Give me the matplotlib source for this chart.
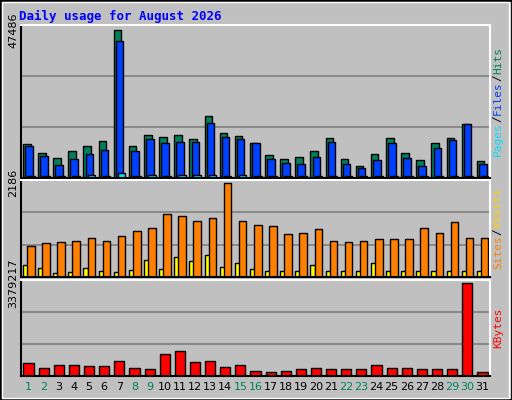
import matplotlib
matplotlib.use("Agg")
import matplotlib.pyplot as plt
from matplotlib.patches import Rectangle
import numpy as np

days = list(range(1, 32))
hits = [10982, 8075, 6460, 8721, 10336, 11951, 47486, 10336, 13889, 13243, 13889, 12597, 20026, 14535, 13566, 11305,
        7429, 6137, 6783, 8721, 12920, 6137, 3876, 7752, 12920, 8075, 5814, 11305, 12920, 17442, 5491]
files = [10336, 7106, 4199, 6137, 7752, 9044, 43928, 8721, 12597, 11305, 11628, 11628, 17765, 13243, 12597, 11305,
         6137, 4845, 4522, 6783, 11628, 4522, 3230, 5814, 11305, 6460, 3876, 9690, 12274, 17442, 4522]
pages = [600, 500, 500, 600, 900, 600, 1600, 500, 900, 600, 900, 900, 900, 500, 900, 700,
         600, 600, 500, 600, 700, 500, 500, 600, 700, 500, 500, 600, 700, 800, 500]
visits = [713, 784, 808, 832, 903, 832, 950, 1069, 1140, 1473, 1426, 1307, 1378, 2186, 1307, 1212,
          1188, 998, 1022, 1117, 832, 808, 832, 879, 879, 879, 1140, 1022, 1283, 903, 903]
sites = [285, 214, 95, 119, 214, 143, 119, 166, 404, 190, 475, 380, 523, 238, 333, 190,
         143, 143, 143, 285, 143, 143, 143, 333, 143, 143, 143, 143, 143, 143, 143]
kbytes = [482742, 297072, 408474, 408474, 371340, 371340, 557010, 297072, 259938, 816948, 928350, 519876, 557010,
          334206, 408474, 185670, 148536, 185670, 259938, 297072, 259938, 259938, 259938, 408474, 297072, 297072,
          259938, 259938, 259938, 3379217, 148536]
weekend = [1, 2, 8, 9, 15, 16, 22, 23, 29, 30]

BG = "#C0C0C0"
fig = plt.figure(figsize=(5.12, 4), dpi=100, facecolor=BG)
fig.patches.append(Rectangle((0, 0), 1, 1, transform=fig.transFigure, fill=False, edgecolor="black", lw=2))
fig.patches.append(Rectangle((0.004, 0.006), 0.99, 0.99, transform=fig.transFigure, fill=False, edgecolor="white", lw=1))
fig.text(19 / 512, 1 - 16 / 400, "Daily usage for August 2026", color="#0000FF", fontsize=9,
         fontweight="bold", family="DejaVu Sans Mono", va="center")

x = np.array(days)
L, W = 21 / 512, 469 / 512
CHAR = 4.9  # points per monospace char at 8pt


def panel(top, bottom, maxv, label_parts):
    ax = fig.add_axes([L, 1 - bottom / 400, W, (bottom - top) / 400])
    ax.set_facecolor(BG)
    ax.set_xlim(0.5, 31.5)
    ax.set_ylim(0, maxv * 1.035)
    for f in (1 / 3, 2 / 3):
        ax.axhline(maxv * 1.035 * f, color="#808080", lw=1.2, zorder=0)
    ax.set_yticks([maxv])
    ax.set_yticklabels([str(maxv)], rotation=90, va="center", fontsize=8)
    ax.tick_params(axis="y", length=0, pad=2)
    ax.set_xticks([])
    for s in ("left", "bottom"):
        ax.spines[s].set_color("black")
    for s in ("top", "right"):
        ax.spines[s].set_color("white")
    for sp in ax.spines.values():
        sp.set_linewidth(1.5)
    # right-side label, reading bottom to top, centred on the panel
    total = sum(len(t) for t, c in label_parts) * CHAR
    off = -total / 2
    for t, c in label_parts:
        ax.annotate(t, xy=(1.0, 0.5), xycoords="axes fraction", xytext=(2, off),
                    textcoords="offset points", color=c, rotation=90, fontsize=8,
                    family="DejaVu Sans Mono", va="bottom", ha="left")
        off += len(t) * CHAR
    return ax


ax1 = panel(25, 178, max(hits), [("Pages", "#00E0FF"), ("/", "black"), ("Files", "#0040FF"),
                                  ("/", "black"), ("Hits", "#00805C")])
ax1.bar(x - 0.37, hits, width=0.5, align="edge", color="#00805C", edgecolor="black", lw=1)
ax1.bar(x - 0.23, files, width=0.5, align="edge", color="#0040FF", edgecolor="black", lw=1)
ax1.bar(x - 0.10, pages, width=0.5, align="edge", color="#00E0FF", edgecolor="black", lw=1)

ax2 = panel(180, 277, max(visits), [("Sites", "#FF8000"), ("/", "black"), ("Visits", "#FFD000")])
ax2.bar(x - 0.37, sites, width=0.33, align="edge", color="#FFFF00", edgecolor="black", lw=1)
ax2.bar(x - 0.10, visits, width=0.5, align="edge", color="#FF8000", edgecolor="black", lw=1)

ax3 = panel(280, 376, max(kbytes), [("KBytes", "#FF0000")])
ax3.bar(x, kbytes, width=0.67, color="#FF0000", edgecolor="black", lw=1)
ax3.set_xticks(days)
ax3.set_xticklabels([str(d) for d in days], fontsize=8)
ax3.tick_params(axis="x", length=0, pad=4)
for lab, d in zip(ax3.get_xticklabels(), days):
    lab.set_color("#00805C" if d in weekend else "black")

fig.savefig("out.png", dpi=100, facecolor=BG)
